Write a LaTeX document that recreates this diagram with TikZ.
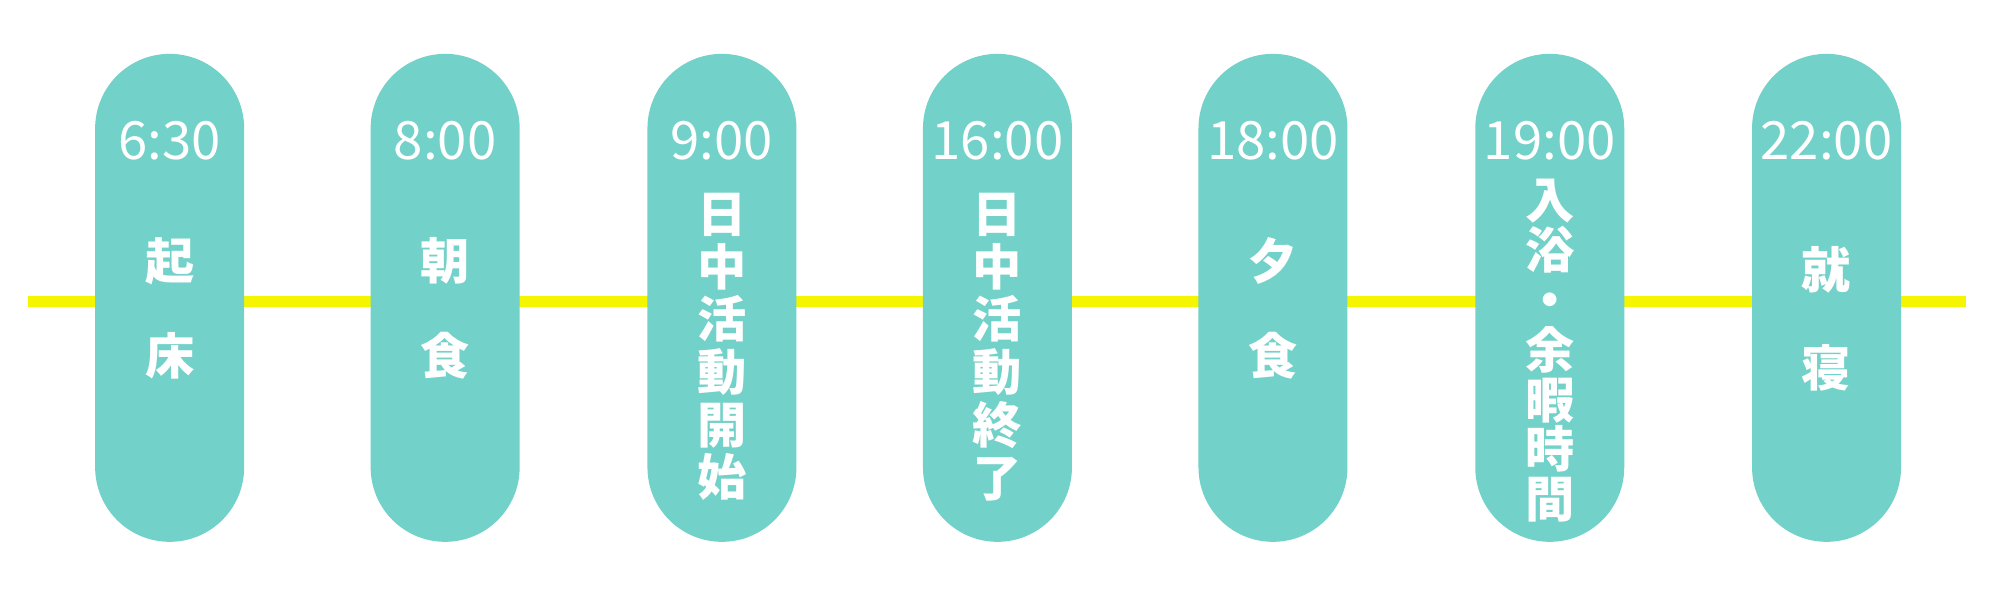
\documentclass[tikz,border=0pt]{standalone}
\usepackage{fontspec}
\newfontfamily\jpfont{Noto Sans CJK JP}
\usetikzlibrary{positioning}
\definecolor{pillcol}{HTML}{72D1C8}
\definecolor{linecol}{HTML}{F5F500}
\newcommand{\tightlines}{\lineskiplimit=-50pt\relax}
\tikzset{
  pill/.style={fill=pillcol, draw=none, minimum width=1.49cm, minimum height=4.88cm,
               rounded corners=0.745cm, inner sep=0pt},
  timelbl/.style={text=white, font=\jpfont\fontsize{15}{15}\selectfont, inner sep=0pt},
  evlbl/.style={text=white, font=\jpfont\bfseries\fontsize{14}{#1}\selectfont\tightlines,
                align=center, inner sep=0pt},
}
\begin{document}
\begin{tikzpicture}[x=0.012755cm, y=-0.012755cm]
  \useasboundingbox (0,0) rectangle (1568,470);
  \coordinate (ls) at (22,236);
  \coordinate (le) at (1541,236);
  \draw[linecol, line width=1.1mm] (ls) -- (le);
  % pills with times and events
  \foreach \i/\x/\t/\ev/\gap/\y in {
      1/133/6:30/{起\\床}/27/242,
      2/349/8:00/{朝\\食}/27/242,
      3/566/9:00/{日\\中\\活\\動\\開\\始}/15/272,
      4/782/16:00/{日\\中\\活\\動\\終\\了}/15/272,
      5/998/18:00/{夕\\食}/27/242,
      6/1215/19:00/{入\\浴\\・\\余\\暇\\時\\間}/14.2/275,
      7/1432/22:00/{就\\寝}/28/250} {
    \node[pill] (p\i) at (\x,233.5) {};
    \node[timelbl] (t\i) at (\x,110) {\t};
    \node[evlbl=\gap] (e\i) at (\x,\y) {\ev};
  }
\end{tikzpicture}
\end{document}
